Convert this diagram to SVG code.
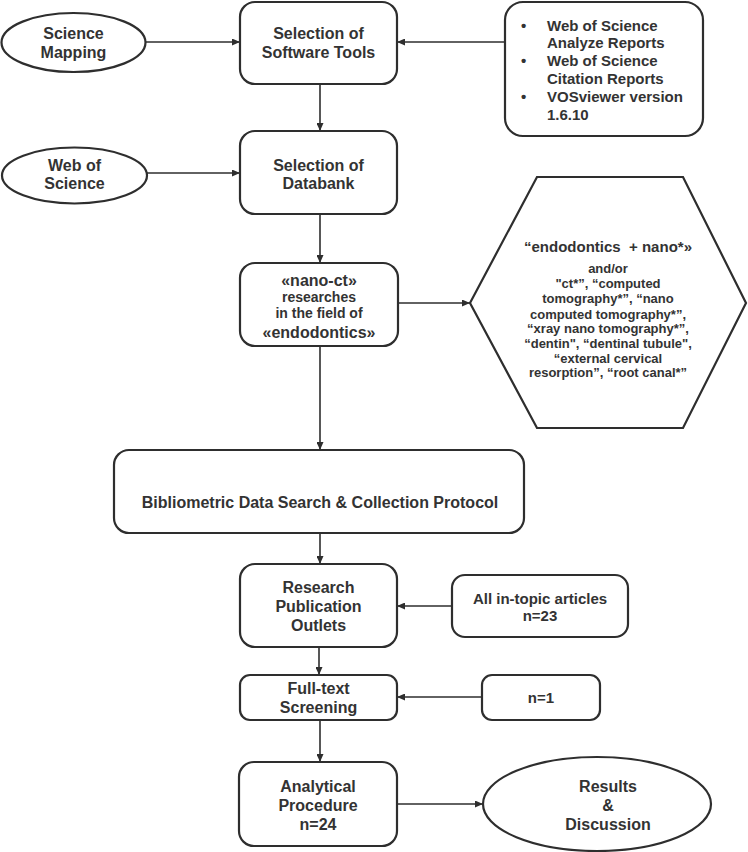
<svg xmlns="http://www.w3.org/2000/svg" width="748" height="852" viewBox="0 0 748 852">
<defs>
<marker id="ah" markerUnits="userSpaceOnUse" markerWidth="8" markerHeight="7" refX="8" refY="3.5" orient="auto">
<path d="M0,0 L8,3.5 L0,7 z" fill="#2e2e2e"/>
</marker>
<style>
.s{fill:#fff;stroke:#2e2e2e;stroke-width:2.2}
.t{font-family:"Liberation Sans",Arial,sans-serif;font-weight:bold;fill:#333;text-anchor:middle;font-size:16px}
.t15{font-size:15px}
.t14{font-size:14px}
.t13{font-size:13px}
.l{text-anchor:start}
.c{fill:none;stroke:#2e2e2e;stroke-width:1.6;marker-end:url(#ah)}
</style>
</defs>
<rect width="748" height="852" fill="#fff"/>
<g id="connectors">
<line class="c" x1="146" y1="42" x2="240" y2="42"/>
<line class="c" x1="505" y1="42" x2="397" y2="42"/>
<line class="c" x1="320" y1="84" x2="320" y2="131"/>
<line class="c" x1="147" y1="173" x2="240" y2="173"/>
<line class="c" x1="320" y1="214" x2="320" y2="263"/>
<line class="c" x1="398" y1="303" x2="470" y2="303"/>
<line class="c" x1="320" y1="346" x2="320" y2="450"/>
<line class="c" x1="320" y1="533" x2="320" y2="564"/>
<line class="c" x1="452" y1="606" x2="397" y2="606"/>
<line class="c" x1="319" y1="647" x2="319" y2="675"/>
<line class="c" x1="482" y1="697" x2="397" y2="697"/>
<line class="c" x1="320" y1="720" x2="320" y2="762"/>
<line class="c" x1="397" y1="804" x2="483" y2="804"/>
</g>
<g id="science-mapping">
<ellipse class="s" cx="73.5" cy="42.5" rx="72" ry="29.5"/>
<text class="t" x="73.5" y="39">Science</text>
<text class="t" x="73.5" y="58">Mapping</text>
</g>
<g id="software-tools">
<rect class="s" x="240" y="2" width="157" height="82" rx="15"/>
<text class="t" x="318.5" y="39">Selection of</text>
<text class="t" x="318.5" y="58">Software Tools</text>
</g>
<g id="tools-list">
<rect class="s" x="505" y="2" width="198" height="134" rx="18"/>
<text class="t t15 l" x="521" y="30.5">•</text>
<text class="t t15 l" x="547" y="30.5">Web of Science</text>
<text class="t t15 l" x="547" y="47.5">Analyze Reports</text>
<text class="t t15 l" x="521" y="65.5">•</text>
<text class="t t15 l" x="547" y="65.5">Web of Science</text>
<text class="t t15 l" x="547" y="83.5">Citation Reports</text>
<text class="t t15 l" x="521" y="101.5">•</text>
<text class="t t15 l" x="547" y="101.5">VOSviewer version</text>
<text class="t t15 l" x="547" y="119.5">1.6.10</text>
</g>
<g id="web-of-science">
<ellipse class="s" cx="74.5" cy="175.5" rx="72.5" ry="28"/>
<text class="t" x="74.5" y="171">Web of</text>
<text class="t" x="74.5" y="189">Science</text>
</g>
<g id="databank">
<rect class="s" x="240" y="131" width="157" height="83" rx="15"/>
<text class="t" x="318.5" y="171">Selection of</text>
<text class="t" x="318.5" y="189">Databank</text>
</g>
<g id="nano-ct">
<rect class="s" x="240" y="263" width="158" height="83" rx="15"/>
<text class="t" x="319" y="286">«nano-ct»</text>
<text class="t t14" x="319" y="302">researches</text>
<text class="t t14" x="319" y="318">in the field of</text>
<text class="t" x="319" y="337.5">«endodontics»</text>
</g>
<g id="keywords">
<polygon class="s" points="470,303 537,177 683,177 746,303 683,428 537,428"/>
<text class="t t15" x="608" y="251.5" xml:space="preserve">“endodontics  + nano*»</text>
<text class="t t13" x="608" y="272.5">and/or</text>
<text class="t t13" x="608" y="287.5">"ct*”, “computed</text>
<text class="t t13" x="608" y="302.5">tomography*”, “nano</text>
<text class="t t13" x="608" y="318.5">computed tomography*”,</text>
<text class="t t13" x="608" y="332.5">“xray nano tomography*”,</text>
<text class="t t13" x="608" y="347.5">“dentin", “dentinal tubule",</text>
<text class="t t13" x="608" y="362.5">“external cervical</text>
<text class="t t13" x="608" y="376.5">resorption”, “root canal*”</text>
</g>
<g id="protocol">
<rect class="s" x="114" y="450" width="410" height="83" rx="15"/>
<text class="t" x="320" y="508">Bibliometric Data Search &amp; Collection Protocol</text>
</g>
<g id="outlets">
<rect class="s" x="240" y="564" width="157" height="83" rx="15"/>
<text class="t" x="318.5" y="593">Research</text>
<text class="t" x="318.5" y="612">Publication</text>
<text class="t" x="318.5" y="631">Outlets</text>
</g>
<g id="in-topic">
<rect class="s" x="452" y="575" width="176" height="62" rx="13"/>
<text class="t t15" x="540" y="603.5">All in-topic articles</text>
<text class="t t15" x="540" y="620.5">n=23</text>
</g>
<g id="screening">
<rect class="s" x="240" y="675" width="157" height="45" rx="10"/>
<text class="t" x="318.5" y="694">Full-text</text>
<text class="t" x="318.5" y="713">Screening</text>
</g>
<g id="n1">
<rect class="s" x="482" y="675" width="118" height="45" rx="10"/>
<text class="t t15" x="541" y="702.5">n=1</text>
</g>
<g id="analytical">
<rect class="s" x="239" y="762" width="158" height="84" rx="15"/>
<text class="t" x="318" y="792">Analytical</text>
<text class="t" x="318" y="811">Procedure</text>
<text class="t" x="318" y="830">n=24</text>
</g>
<g id="results">
<ellipse class="s" cx="597" cy="804" rx="114" ry="47"/>
<text class="t" x="608" y="792">Results</text>
<text class="t" x="608" y="811">&amp;</text>
<text class="t" x="608" y="830">Discussion</text>
</g>
</svg>
